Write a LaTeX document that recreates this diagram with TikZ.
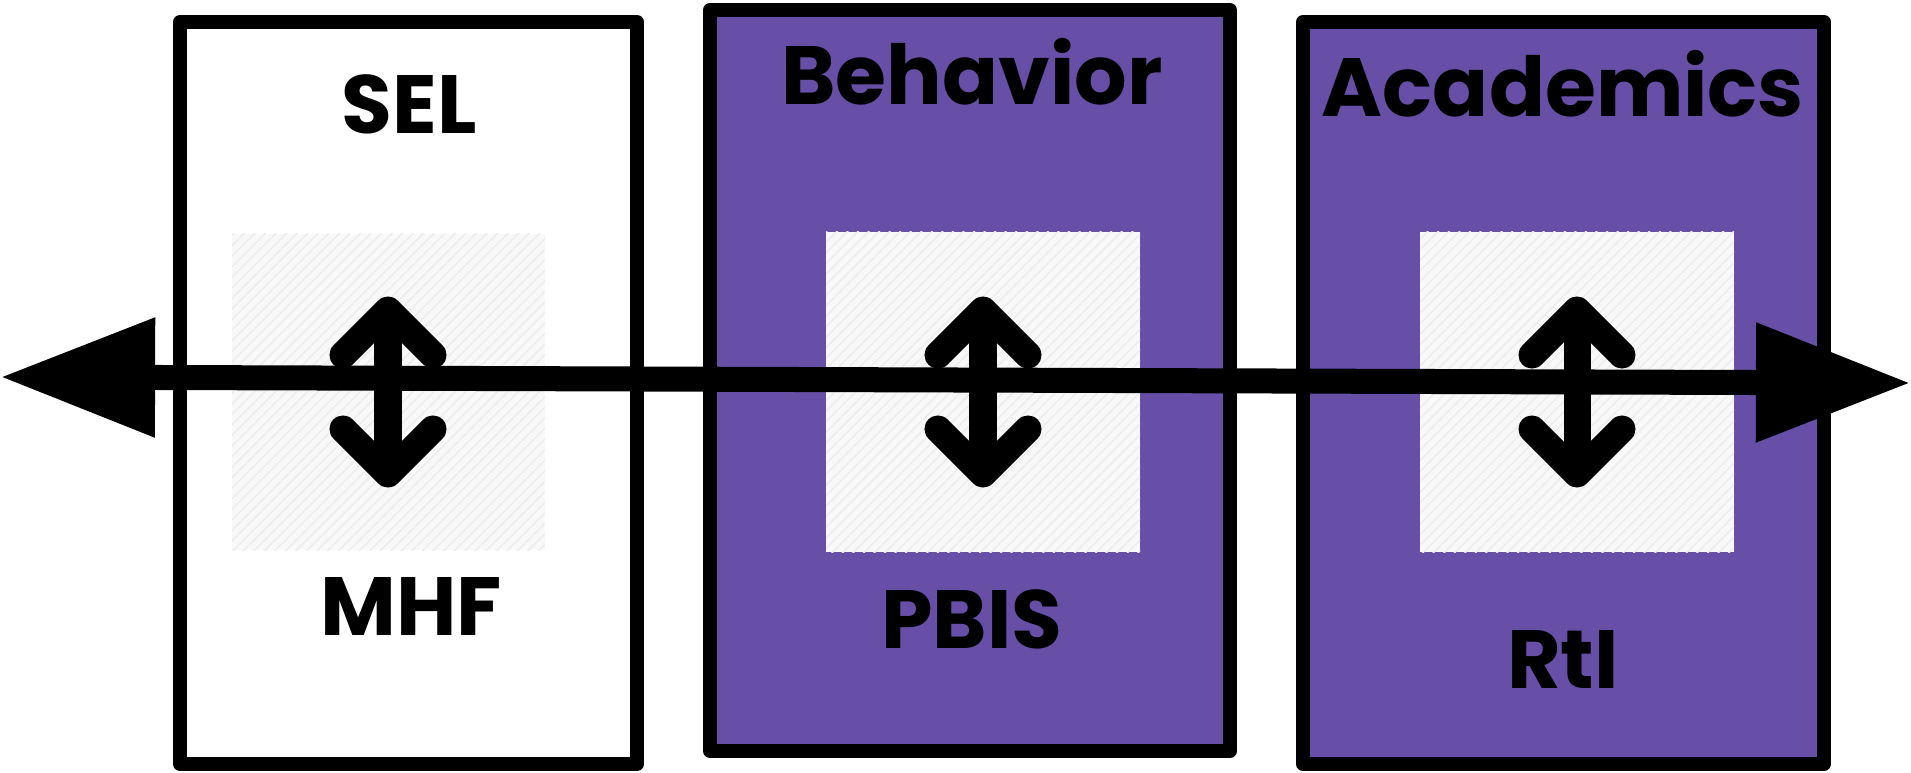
\documentclass[tikz,border=0pt]{standalone}
\usepackage{fontspec}
\newfontfamily\lblfont{Poppins}
\usepackage{xcolor}
\usepackage{tikz}
\usetikzlibrary{arrows.meta,patterns}
\definecolor{panelpurple}{HTML}{674FA7}
\definecolor{insetbg}{HTML}{F8F8F8}
\definecolor{insetln}{HTML}{EDEDED}
\tikzset{
  panel/.style={line width=1.4mm,line join=round},
  inset/.style={preaction={fill=insetbg},pattern=north east lines,pattern color=insetln},
  lbl/.style={font=\lblfont\bfseries\fontsize{23.5}{28}\selectfont,anchor=base,inner sep=0pt},
  icon/.style={line width=2.7mm,line cap=round,line join=round},
  bigar/.style={line width=2.5mm,{Triangle[length=15.5mm,width=11.3mm]}-{Triangle[length=15.5mm,width=11.3mm]}}
}

\begin{document}
\begin{tikzpicture}[x=0.01cm,y=-0.01cm]
\useasboundingbox (0,0) rectangle (1911,773);
\draw[panel,fill=white] (180,22) rectangle (637,764);
\draw[panel,fill=panelpurple] (710,10) rectangle (1230,751);
\draw[panel,fill=panelpurple] (1303,22) rectangle (1824,764);
\path[inset] (232,234) rectangle (545,550);
\path[inset] (826,232) rectangle (1140,552);
\path[inset] (1420,232) rectangle (1734,552);
\foreach \cx in {388,983,1577}{
  \draw[icon] (\cx-45,355) -- (\cx,310) -- (\cx+45,355);
  \draw[icon] (\cx-45,429) -- (\cx,474) -- (\cx+45,429);
  \draw[icon,line cap=butt] (\cx,310) -- (\cx,474);
}
\node[lbl] (sel) at (409,134) {SEL};
\node[lbl] (mhf) at (411,636) {MHF};
\node[lbl] (beh) at (972,105) {Behavior};
\node[lbl] (pbis) at (972,648) {PBIS};
\node[lbl] (acad) at (1563,117) {Academics};
\node[lbl] (rti) at (1563,689) {RtI};
\coordinate (lend) at (0,377);
\coordinate (rend) at (1911,383);
\draw[bigar] (lend) -- (rend);
\end{tikzpicture}
\end{document}
